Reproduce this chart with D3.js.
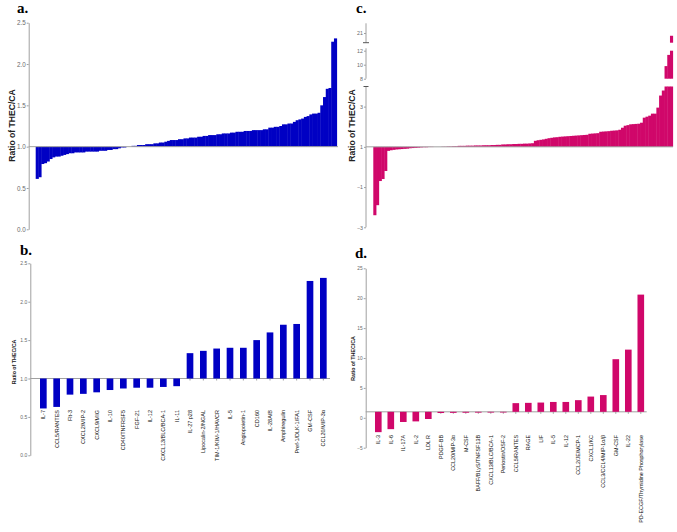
<!DOCTYPE html>
<html>
<head>
<meta charset="utf-8">
<script src="https://cdn.jsdelivr.net/npm/d3@7"></script>
<style>
  body { margin: 0; background: #fff; }
  svg { display: block; }
  .axis path, .axis line { stroke: #a0a0a0; stroke-width: 1; }
  .axis text { font-family: "Liberation Sans", Arial, sans-serif; fill: #6a6a6a; }
  .base { stroke: #a0a0a0; stroke-width: 1; }
  .ylab { font-family: "Liberation Sans", Arial, sans-serif; font-weight: bold; fill: #222; }
  .xlab { font-family: "Liberation Sans", Arial, sans-serif; fill: #111; }
  .panel { font-family: "Liberation Serif", "Times New Roman", serif; font-weight: bold; fill: #000; }
</style>
</head>
<body>
<div id="chart"></div>
<script>
// ---- DATA ----
// a. all cytokines, control group, sorted ratio THEC/CA
var ratioA = [0.61, 0.63, 0.79, 0.80, 0.82, 0.85, 0.87, 0.88, 0.88, 0.89, 0.90,
    0.91, 0.92, 0.92, 0.93, 0.93, 0.93, 0.93, 0.94, 0.94, 0.94, 0.94, 0.94, 0.95, 0.95, 0.95,
    0.96, 0.96, 0.97, 0.97, 0.98, 0.99, 0.99, 1.00, 1.00, 1.01,
    1.01, 1.02, 1.02, 1.02, 1.03, 1.03, 1.03, 1.04, 1.04,
    1.05, 1.05, 1.06, 1.07,
    1.08, 1.08, 1.08, 1.09, 1.09,
    1.10, 1.10, 1.11, 1.11, 1.11, 1.12, 1.12,
    1.13, 1.13, 1.14, 1.14, 1.14, 1.15, 1.15,
    1.16, 1.16, 1.16, 1.17, 1.17,
    1.18, 1.18, 1.18, 1.19, 1.19, 1.19, 1.20, 1.20, 1.20, 1.20, 1.21, 1.21,
    1.23, 1.23, 1.24, 1.24,
    1.25, 1.27, 1.27, 1.28,
    1.28, 1.30, 1.32,
    1.33, 1.34, 1.36, 1.37, 1.39, 1.40, 1.40, 1.41, 1.50, 1.60, 1.70, 1.71, 2.27, 2.31];

// b. top changed cytokines
var namesB = ["IL-7", "CCL5/RANTES", "Flt-3", "CXCL2/MIP-2", "CXCL9/MIG", "IL-10",
    "CD40/TNFRSF5", "FGF-21", "IL-12", "CXCL13/BLC/BCA-1", "IL-11", "IL-27 p28",
    "Lipocalin-2/NGAL", "TIM-1/KIM-1/HAVCR", "IL-5", "Angiopoietin-1", "CD160",
    "IL-28A/B", "Amphiregulin", "Pref-1/DLK-1/FA1", "GM-CSF", "CCL20/MIP-3\u03b1"];
var ratioB = [0.61, 0.63, 0.79, 0.80, 0.82, 0.85, 0.87, 0.88, 0.88, 0.89, 0.90,
    1.33, 1.36, 1.39, 1.40, 1.40, 1.50, 1.60, 1.70, 1.71, 2.27, 2.31];

// c. all cytokines, second group
var ratioC = [-2.40, -1.90, -0.70, -0.60, -0.20,
    0.80, 0.83, 0.85, 0.87, 0.88, 0.89,
    0.90, 0.91, 0.93, 0.94, 0.95, 0.96, 0.97,
    0.98, 0.98, 0.99, 0.99, 1.00, 1.00, 1.00, 1.01, 1.01, 1.02, 1.02, 1.03, 1.03,
    1.05, 1.05, 1.05, 1.06, 1.06, 1.06, 1.07, 1.07, 1.07, 1.08, 1.08, 1.08, 1.09, 1.09, 1.10, 1.10,
    1.12, 1.12, 1.13, 1.13, 1.14, 1.14, 1.15, 1.15, 1.16, 1.16, 1.17, 1.18,
    1.30, 1.33, 1.35, 1.37, 1.40, 1.43, 1.45, 1.47, 1.48,
    1.50, 1.51, 1.52, 1.53, 1.54, 1.55, 1.56, 1.57, 1.58, 1.59, 1.60,
    1.65, 1.66, 1.67, 1.68,
    1.75, 1.76, 1.77, 1.78, 1.80, 1.81, 1.82, 1.85,
    1.95, 2.05, 2.08,
    2.12, 2.13, 2.14, 2.15, 2.20,
    2.45, 2.50, 2.55, 2.65, 2.65, 2.95, 3.55, 3.80, 9.80, 11.40, 20.60];

// d. top changed cytokines, second group
var namesD = ["IL-3", "IL-6", "IL-17A", "IL-2", "LDL R", "PDGF-BB", "CCL20/MIP-3\u03b1",
    "M-CSF", "BAFF/BLyS/TNFSF13B", "CXCL13/BLC/BCA-1", "Periostin/OSF-2", "CCL5/RANTES",
    "RAGE", "LIF", "IL-5", "IL-12", "CCL2/JE/MCP-1", "CXCL1/KC", "CCL3/CCL4/MIP-1\u03b1/\u03b2",
    "GM-CSF", "IL-22", "PD-ECGF/Thymidine Phosphorylase"];
var ratioD = [-2.40, -1.90, -0.70, -0.60, -0.20, 0.80, 0.83, 0.85, 0.87, 0.88, 0.89,
    2.45, 2.50, 2.55, 2.65, 2.65, 2.95, 3.55, 3.80, 9.80, 11.40, 20.60];

var ticksAB = [0, 0.5, 1, 1.5, 2, 2.5];
var ticksCLow = [-3, -1, 1, 3];
var ticksCMid = [8, 10, 12];
var ticksCTop = [21];
var ticksD = [-5, 0, 5, 10, 15, 20, 25];

var blue = "#0000c4";
var pink = "#d0076a";
var yLabel = "Ratio of THEC/CA";

// ---- SVG ----
var svg = d3.select("#chart").append("svg")
    .attr("width", 677)
    .attr("height", 532);

function leftAxis(g, x, scale, ticks, fmt, size) {
    var ax = g.append("g")
        .attr("class", "axis")
        .attr("transform", "translate(" + x + ",0)")
        .call(d3.axisLeft(scale).tickValues(ticks).tickFormat(fmt)
            .tickSize(2).tickSizeOuter(0).tickPadding(1));
    ax.selectAll("text").style("font-size", size + "px");
    return ax;
}

function sideLabel(g, x, y, size) {
    g.append("text")
        .attr("class", "ylab")
        .attr("transform", "translate(" + x + "," + y + ") rotate(-90)")
        .attr("text-anchor", "middle")
        .style("font-size", size + "px")
        .text(yLabel);
}

function panelLetter(x, y, s) {
    svg.append("text").attr("class", "panel")
        .attr("x", x).attr("y", y)
        .style("font-size", "15px")
        .text(s);
}

/* PANEL A */
var gA = svg.append("g");
var xA = d3.scaleBand().domain(d3.range(ratioA.length)).range([35.7, 336.7]);
var yA = d3.scaleLinear().domain([0, 2.5]).range([229.3, 22.7]);

gA.selectAll("rect").data(ratioA).enter().append("rect")
    .attr("x", function(d, i) { return xA(i); })
    .attr("width", xA.bandwidth() + 0.4)
    .attr("y", function(d) { return Math.min(yA(d), yA(1)); })
    .attr("height", function(d) { return Math.abs(yA(d) - yA(1)); })
    .attr("fill", blue);

gA.append("line").attr("class", "base")
    .attr("x1", 28.7).attr("x2", 338).attr("y1", yA(1)).attr("y2", yA(1));
leftAxis(gA, 28.7, yA, ticksAB, d3.format(".1f"), 6.3);
sideLabel(gA, 15, 125.5, 8.6);
panelLetter(17, 12.5, "a.");

/* PANEL B */
var gB = svg.append("g");
var xB = d3.scaleBand().domain(namesB).range([36.67, 330]).paddingInner(0.5).paddingOuter(0.25);
var yB = d3.scaleLinear().domain([0, 2.5]).range([455.3, 263.3]);

gB.append("line").attr("class", "base")
    .attr("x1", 30.3).attr("x2", 330).attr("y1", yB(1)).attr("y2", yB(1));
gB.append("g").attr("class", "axis")
    .attr("transform", "translate(0," + yB(1) + ")")
    .call(d3.axisBottom(xB).tickSize(2).tickSizeOuter(0).tickFormat(""))
    .select(".domain").remove();

gB.selectAll("rect").data(ratioB).enter().append("rect")
    .attr("x", function(d, i) { return xB(namesB[i]); })
    .attr("width", xB.bandwidth())
    .attr("y", function(d) { return Math.min(yB(d), yB(1)); })
    .attr("height", function(d) { return Math.abs(yB(d) - yB(1)); })
    .attr("fill", blue);

gB.selectAll(".xlab").data(namesB).enter().append("text")
    .attr("class", "xlab")
    .attr("transform", function(d) {
        return "translate(" + (xB(d) + xB.bandwidth() / 2) + ",410) rotate(-90)";
    })
    .attr("text-anchor", "end")
    .attr("dy", "0.35em")
    .style("font-size", "5.5px")
    .text(function(d) { return d; });

leftAxis(gB, 30.3, yB, ticksAB, d3.format(".1f"), 5);
sideLabel(gB, 15.5, 362, 5.3);
panelLetter(20, 255, "b.");

/* PANEL C - broken y axis */
var gC = svg.append("g");
var xC = d3.scaleBand().domain(d3.range(ratioC.length)).range([373.3, 672.7]);
var segC = [
    { scale: d3.scaleLinear().domain([-3, 4]).range([227.3, 86.5]), ticks: ticksCLow, line: [86.5, 227.3] },
    { scale: d3.scaleLinear().domain([8, 12]).range([78.7, 50.7]), ticks: ticksCMid, line: [48.3, 78.7] },
    { scale: d3.scaleLinear().domain([19.6, 22.4]).range([42.7, 23.3]), ticks: ticksCTop, line: [23.3, 42.7] }
];
var barsC = ratioC.map(function(d, i) { return { v: d, i: i }; });

segC.forEach(function(seg, k) {
    var lo = seg.scale.domain()[0], hi = seg.scale.domain()[1];
    var base = k === 0 ? 1 : lo;
    var shown = barsC.filter(function(d) { return k === 0 || d.v > lo; });

    gC.append("g").selectAll("rect").data(shown).enter().append("rect")
        .attr("x", function(d) { return xC(d.i); })
        .attr("width", xC.bandwidth() + 0.4)
        .attr("y", function(d) {
            var v = Math.max(lo, Math.min(d.v, hi));
            return Math.min(seg.scale(v), seg.scale(base));
        })
        .attr("height", function(d) {
            var v = Math.max(lo, Math.min(d.v, hi));
            return Math.abs(seg.scale(v) - seg.scale(base));
        })
        .attr("fill", pink);

    var ax = leftAxis(gC, 366, seg.scale, seg.ticks, d3.format("d"), 5.3);
    ax.select(".domain").attr("d", "M0," + seg.line[0] + "V" + seg.line[1]);
});

// break marks
gC.append("line").attr("class", "base").attr("x1", 363).attr("x2", 369)
    .attr("y1", 42.7).attr("y2", 42.7).style("stroke", "#555");
gC.append("line").attr("class", "base").attr("x1", 363.5).attr("x2", 368.5)
    .attr("y1", 86.5).attr("y2", 86.5).style("stroke", "#555");

gC.append("line").attr("class", "base")
    .attr("x1", 366).attr("x2", 673).attr("y1", segC[0].scale(1)).attr("y2", segC[0].scale(1));
sideLabel(gC, 355, 125.5, 8.6);
panelLetter(356, 12.5, "c.");

/* PANEL D */
var gD = svg.append("g");
var xD = d3.scaleBand().domain(namesD).range([372.05, 647.05]).paddingInner(0.47).paddingOuter(0.235);
var yD = d3.scaleLinear().domain([-5, 25]).range([447.7, 268.3]);

gD.append("line").attr("class", "base")
    .attr("x1", 365.7).attr("x2", 646.7).attr("y1", yD(1)).attr("y2", yD(1));
gD.append("g").attr("class", "axis")
    .attr("transform", "translate(0," + yD(1) + ")")
    .call(d3.axisBottom(xD).tickSize(2).tickSizeOuter(0).tickFormat(""))
    .select(".domain").remove();

gD.selectAll("rect").data(ratioD).enter().append("rect")
    .attr("x", function(d, i) { return xD(namesD[i]); })
    .attr("width", xD.bandwidth())
    .attr("y", function(d) { return Math.min(yD(d), yD(1)); })
    .attr("height", function(d) { return Math.abs(yD(d) - yD(1)); })
    .attr("fill", pink);

gD.selectAll(".xlab").data(namesD).enter().append("text")
    .attr("class", "xlab")
    .attr("transform", function(d) {
        return "translate(" + (xD(d) + xD.bandwidth() / 2) + ",435) rotate(-90)";
    })
    .attr("text-anchor", "end")
    .attr("dy", "0.35em")
    .style("font-size", "5.4px")
    .text(function(d) { return d; });

leftAxis(gD, 365.7, yD, ticksD, d3.format("d"), 4.8);
sideLabel(gD, 355, 358.5, 5.3);
panelLetter(355, 258, "d.");
</script>
</body>
</html>
